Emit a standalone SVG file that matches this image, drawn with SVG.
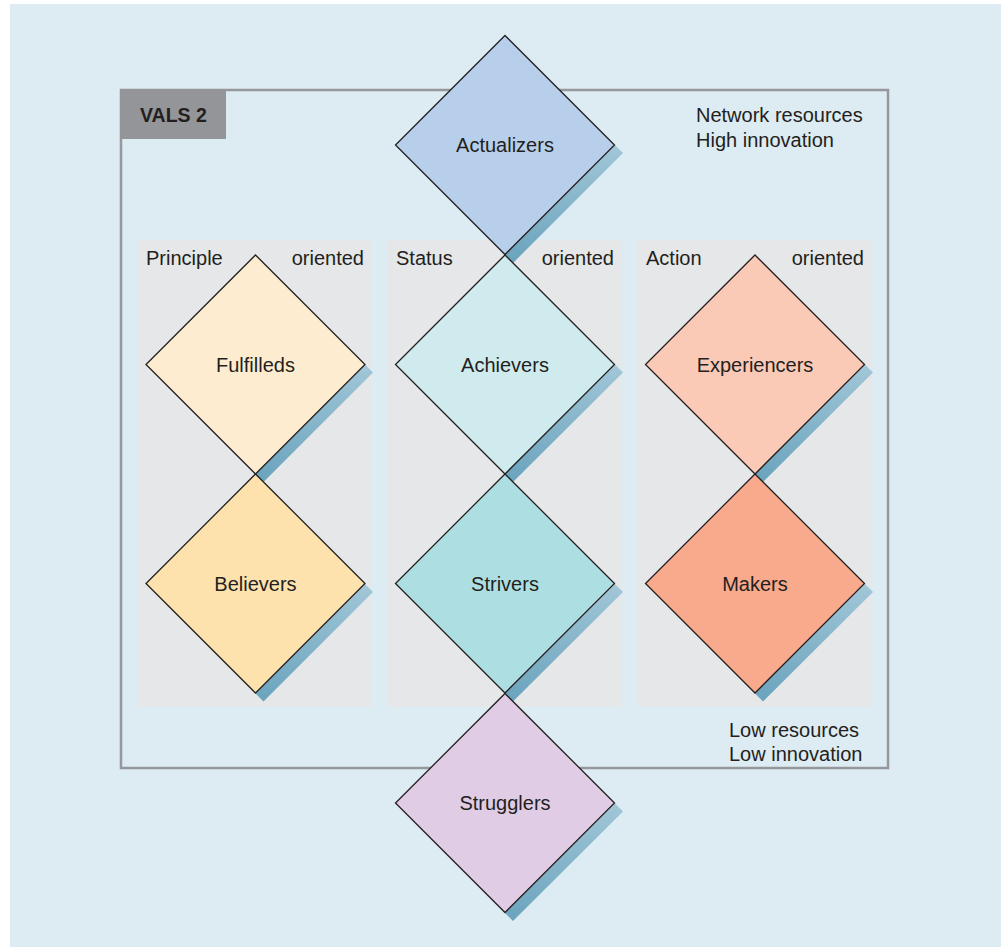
<svg xmlns="http://www.w3.org/2000/svg" width="1001" height="947" viewBox="0 0 1001 947">
<defs>
<linearGradient id="sh" x1="0" y1="0" x2="0" y2="1">
<stop offset="0" stop-color="#a2c7d8"/>
<stop offset="1" stop-color="#6aa3bd"/>
</linearGradient>
<style>
text{font-family:"Liberation Sans",Arial,sans-serif;fill:#231f20;font-size:20px}
.c{text-anchor:middle}
.r{text-anchor:end}
.d{stroke:#231f20;stroke-width:1.3;stroke-linejoin:miter}
.s{fill:url(#sh)}
.col{fill:#e6e7e8}
</style>
</defs>
<rect x="0" y="0" width="1001" height="947" fill="#ffffff"/>
<rect x="10" y="4" width="991" height="943" fill="#ddebf2"/>
<rect x="121" y="90" width="767" height="678" fill="none" stroke="#97989b" stroke-width="2.5"/>
<g id="tab">
<rect x="120" y="89" width="106" height="50" fill="#939598"/>
<text x="140" y="122" style="font-weight:bold;font-size:19.5px">VALS 2</text>
</g>
<g id="columns">
<rect class="col" x="137" y="240" width="235" height="467"/>
<rect class="col" x="387" y="240" width="235" height="467"/>
<rect class="col" x="637" y="240" width="235" height="467"/>
<text x="146" y="264.5">Principle</text>
<text class="r" x="364" y="264.5">oriented</text>
<text x="396" y="264.5">Status</text>
<text class="r" x="614" y="264.5">oriented</text>
<text x="646" y="264.5">Action</text>
<text class="r" x="864" y="264.5">oriented</text>
</g>
<g id="corner-labels">
<text x="696" y="122">Network resources</text>
<text x="696" y="146.5">High innovation</text>
<text x="729" y="737">Low resources</text>
<text x="729" y="760.5">Low innovation</text>
</g>
<g id="connectors"></g>
<g id="actualizers">
<polygon class="s" points="615,145 623,153 513,263 505,255"/>
<polygon class="d" fill="#b8cfeb" points="505,35.5 614.5,145 505,254.5 395.5,145"/>
<text class="c" x="505" y="152">Actualizers</text>
</g>
<g id="fulfilleds">
<polygon class="s" points="365,364.5 373,372.5 263.5,482 255.5,474"/>
<polygon class="d" fill="#fdecd0" points="255.5,255 365,364.5 255.5,474 146,364.5"/>
<text class="c" x="255.5" y="371.5">Fulfilleds</text>
</g>
<g id="achievers">
<polygon class="s" points="615,364.5 623,372.5 513,482 505,474"/>
<polygon class="d" fill="#d0ebee" points="505,255 614.5,364.5 505,474 395.5,364.5"/>
<text class="c" x="505" y="371.5">Achievers</text>
</g>
<g id="experiencers">
<polygon class="s" points="865,364.5 873,372.5 763,482 755,474"/>
<polygon class="d" fill="#fbcab6" points="755,255 864.5,364.5 755,474 645.5,364.5"/>
<text class="c" x="755" y="371.5">Experiencers</text>
</g>
<g id="believers">
<polygon class="s" points="365,584 373,592 263.5,701.5 255.5,693.5"/>
<polygon class="d" fill="#fde2ae" points="255.5,474 365,583.5 255.5,693 146,583.5"/>
<text class="c" x="255.5" y="590.5">Believers</text>
</g>
<g id="strivers">
<polygon class="s" points="615,584 623,592 513,701.5 505,693.5"/>
<polygon class="d" fill="#addfe2" points="505,474 614.5,583.5 505,693 395.5,583.5"/>
<text class="c" x="505" y="590.5">Strivers</text>
</g>
<g id="makers">
<polygon class="s" points="865,584 873,592 763,701.5 755,693.5"/>
<polygon class="d" fill="#f9aa8d" points="755,474 864.5,583.5 755,693 645.5,583.5"/>
<text class="c" x="755" y="590.5">Makers</text>
</g>
<g id="strugglers">
<polygon class="s" points="615,803.5 623,811.5 513,921 505,913"/>
<polygon class="d" fill="#e0cce5" points="505,693.5 614.5,803 505,912.5 395.5,803"/>
<text class="c" x="505" y="810">Strugglers</text>
</g>
</svg>
